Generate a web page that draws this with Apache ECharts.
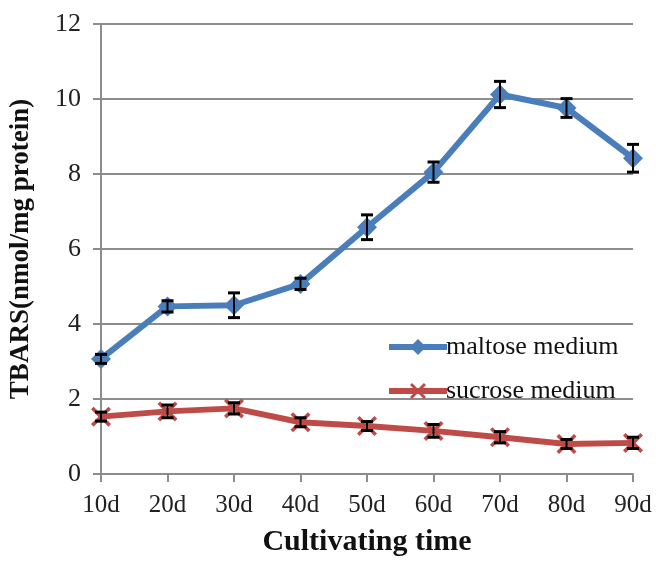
<!DOCTYPE html>
<html>
<head>
<meta charset="utf-8">
<script src="https://cdn.jsdelivr.net/npm/echarts@6/dist/echarts.min.js"></script>
<style>html,body{margin:0;padding:0;background:#fff}#c{width:656px;height:562px}</style>
</head>
<body>
<div id="c"></div>
<script>
var categories = ['10d','20d','30d','40d','50d','60d','70d','80d','90d'];
var maltose = [3.07, 4.47, 4.50, 5.07, 6.58, 8.05, 10.12, 9.76, 8.42];
var maltoseErr = [0.12, 0.15, 0.33, 0.15, 0.33, 0.27, 0.35, 0.25, 0.37];
var sucrose = [1.53, 1.67, 1.75, 1.38, 1.28, 1.15, 0.98, 0.80, 0.83];
var sucroseErr = [0.12, 0.17, 0.15, 0.12, 0.12, 0.17, 0.15, 0.12, 0.15];
var yTicks = [0, 2, 4, 6, 8, 10, 12];

var serif = 'Liberation Serif';
var gridColor = '#8c8c8c';
var xMark = 'path://M0,1.3 L1.3,0 L5,3.7 L8.7,0 L10,1.3 L6.3,5 L10,8.7 L8.7,10 L5,6.3 L1.3,10 L0,8.7 L3.7,5 Z';

function errData(vals, errs) {
  return vals.map(function (v, i) { return [i, v - errs[i], v + errs[i]]; });
}
function errRender(params, api) {
  var x = api.value(0);
  var lo = api.coord([x, api.value(1)]);
  var hi = api.coord([x, api.value(2)]);
  var w = 6;
  return { type: 'group', children: [
    { type: 'line', shape: { x1: lo[0], y1: lo[1], x2: hi[0], y2: hi[1] }, style: { stroke: '#000', lineWidth: 2 } },
    { type: 'line', shape: { x1: lo[0] - w, y1: lo[1], x2: lo[0] + w, y2: lo[1] }, style: { stroke: '#000', lineWidth: 3 } },
    { type: 'line', shape: { x1: hi[0] - w, y1: hi[1], x2: hi[0] + w, y2: hi[1] }, style: { stroke: '#000', lineWidth: 3 } }
  ]};
}

var chart = echarts.init(document.getElementById('c'));
chart.setOption({
  animation: false,
  backgroundColor: '#fff',
  grid: { left: 99, right: 23, top: 24, bottom: 86, containLabel: false },
  legend: {
    orient: 'vertical', left: 381, top: 329, itemGap: 18, itemWidth: 58, itemHeight: 20,
    lineStyle: { width: 6 },
    textStyle: { fontFamily: serif, fontSize: 26, color: '#111', padding: [0, 0, 0, -6] },
    data: ['maltose medium', 'sucrose medium']
  },
  xAxis: {
    type: 'category', data: categories, boundaryGap: false,
    axisLine: { lineStyle: { color: gridColor, width: 2 } },
    axisTick: { show: true, length: 8, lineStyle: { color: gridColor, width: 2 } },
    axisLabel: { fontFamily: serif, fontSize: 25, color: '#222', margin: 19 },
    name: 'Cultivating time', nameLocation: 'middle', nameGap: 53,
    nameTextStyle: { fontFamily: serif, fontSize: 30, fontWeight: 'bold', color: '#111' }
  },
  yAxis: {
    type: 'value', min: yTicks[0], max: yTicks[yTicks.length - 1], interval: 2,
    axisLine: { show: true, lineStyle: { color: gridColor, width: 2 } },
    axisTick: { show: true, length: 8, lineStyle: { color: gridColor, width: 2 } },
    splitLine: { lineStyle: { color: gridColor, width: 2 } },
    axisLabel: { fontFamily: serif, fontSize: 26, color: '#222', margin: 20 },
    name: 'TBARS(nmol/mg protein)', nameLocation: 'middle', nameGap: 66,
    nameTextStyle: { fontFamily: serif, fontSize: 27, fontWeight: 'bold', color: '#111' }
  },
  series: [
    { name: 'maltose medium', type: 'line', data: maltose, symbol: 'diamond', symbolSize: 20,
      lineStyle: { color: '#4a7ebb', width: 6 }, itemStyle: { color: '#4a7ebb' }, z: 3 },
    { name: 'sucrose medium', type: 'line', data: sucrose, symbol: xMark, symbolSize: 20,
      lineStyle: { color: '#be4b48', width: 6 }, itemStyle: { color: '#be4b48' }, z: 3 },
    { type: 'custom', renderItem: errRender, data: errData(maltose, maltoseErr), z: 5, silent: true },
    { type: 'custom', renderItem: errRender, data: errData(sucrose, sucroseErr), z: 5, silent: true }
  ]
});
</script>
</body>
</html>
